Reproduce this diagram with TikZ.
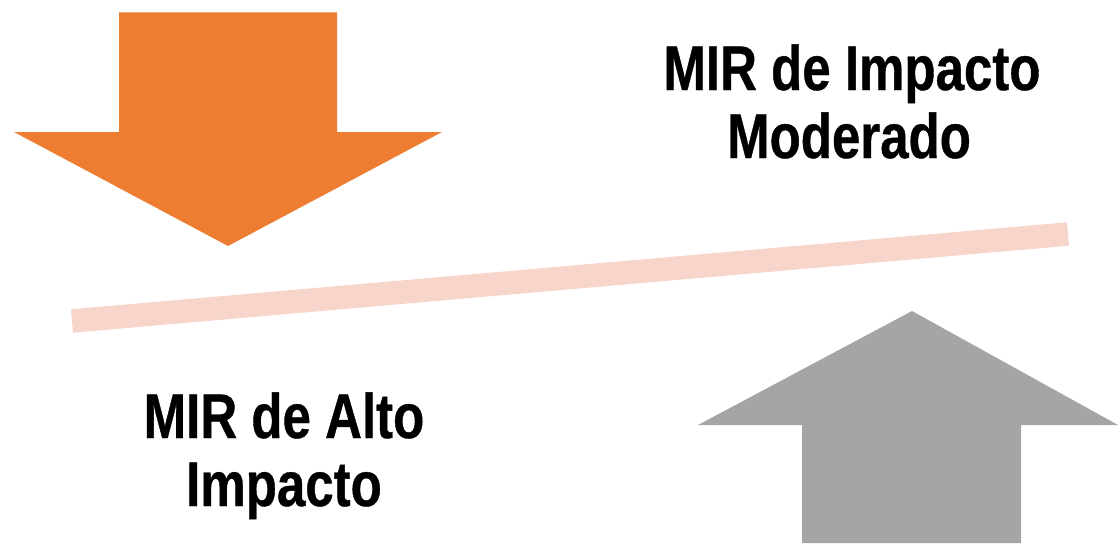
\documentclass[tikz,border=0pt]{standalone}
\usepackage{fontspec}
\setmainfont{Liberation Sans}[FakeStretch=0.81, BoldFeatures={FakeBold=0.6}]
\definecolor{arroworange}{HTML}{ED7D31}
\definecolor{arrowgray}{HTML}{A5A5A5}
\definecolor{bandsalmon}{HTML}{F8D5CA}
\tikzset{
  lbl/.style={font=\fontsize{63}{68}\selectfont\bfseries, inner sep=0pt, anchor=base, text=black},
}
\begin{document}
\begin{tikzpicture}[x=1pt,y=-1pt]
\useasboundingbox (0,0) rectangle (1118,543);
% orange down arrow
\fill[arroworange] (119,12.5) -- (337,12.5) -- (337,132) -- (442,132) -- (228,246) -- (14,132) -- (119,132) -- cycle;
% gray up arrow
\fill[arrowgray] (912,311) -- (1118,425) -- (1021,425) -- (1021,543) -- (802,543) -- (802,425) -- (698,425) -- cycle;
% band
\coordinate (bl) at (72,321);
\coordinate (br) at (1068,234);
\draw[bandsalmon, line width=23.5pt] (bl) -- (br);
% labels
\node[lbl] (t1) at (852,90) {MIR de Impacto};
\node[lbl] (t2) at (849,158) {Moderado};
\node[lbl] (b1) at (284,438) {MIR de Alto};
\node[lbl] (b2) at (284,506) {Impacto};
\end{tikzpicture}
\end{document}
